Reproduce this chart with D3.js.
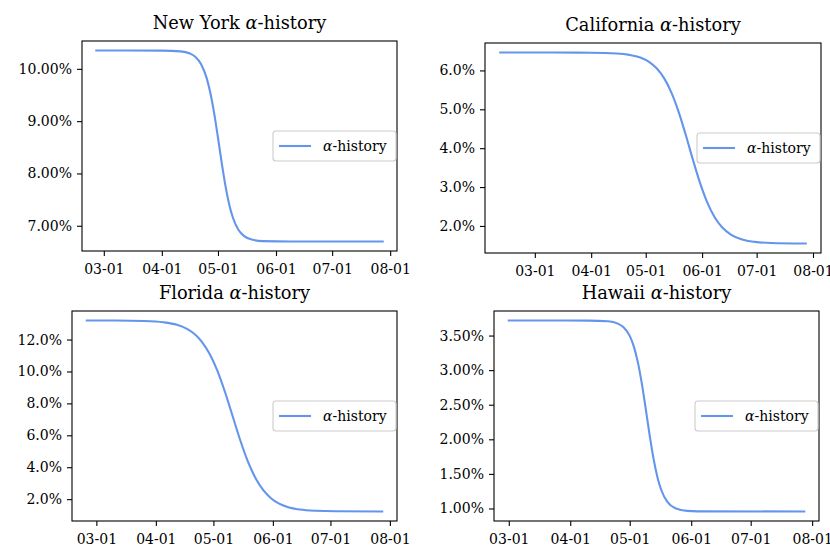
<!DOCTYPE html>
<html>
<head>
<meta charset="utf-8">
<script src="https://cdn.jsdelivr.net/npm/d3@7"></script>
<style>
  html, body { margin: 0; padding: 0; background: #fff; }
  svg { display: block; }
  text { font-family: "DejaVu Serif", serif; fill: #000; }
</style>
</head>
<body>
<svg id="chart" width="830" height="546"></svg>
<script>
// ---------------- DATA ----------------
const states = ["New York", "California", "Florida", "Hawaii"];
const seriesLabel = "history";
const xTickLabels = ["03-01", "04-01", "05-01", "06-01", "07-01", "08-01"];
const year = "2020";

const nyDates = ["2020-02-26","2020-03-15","2020-04-01","2020-04-11","2020-04-16","2020-04-19","2020-04-22","2020-04-25","2020-04-27","2020-04-29","2020-05-01","2020-05-03","2020-05-05","2020-05-07","2020-05-09","2020-05-12","2020-05-15","2020-05-19","2020-05-25","2020-06-09","2020-07-28"];
const nyValues = [10.35,10.35,10.349,10.335,10.294,10.228,10.09,9.818,9.529,9.143,8.683,8.201,7.762,7.408,7.153,6.919,6.802,6.736,6.707,6.70,6.70];
const nyYTicks = [7, 8, 9, 10];

const caDates = ["2020-02-11","2020-03-11","2020-04-01","2020-04-15","2020-04-22","2020-04-28","2020-05-03","2020-05-07","2020-05-11","2020-05-15","2020-05-19","2020-05-23","2020-05-27","2020-05-31","2020-06-04","2020-06-08","2020-06-12","2020-06-17","2020-06-23","2020-06-30","2020-07-09","2020-07-28"];
const caValues = [6.46,6.46,6.456,6.436,6.40,6.33,6.213,6.054,5.808,5.444,4.949,4.345,3.696,3.088,2.587,2.218,1.965,1.773,1.653,1.591,1.562,1.55];
const caYTicks = [2, 3, 4, 5, 6];

const flDates = ["2020-02-25","2020-03-11","2020-03-26","2020-04-05","2020-04-12","2020-04-17","2020-04-21","2020-04-25","2020-04-29","2020-05-03","2020-05-07","2020-05-11","2020-05-15","2020-05-19","2020-05-23","2020-05-27","2020-05-31","2020-06-04","2020-06-09","2020-06-15","2020-06-23","2020-07-04","2020-07-28"];
const flValues = [13.19,13.19,13.16,13.08,12.92,12.68,12.36,11.86,11.11,10.07,8.73,7.21,5.69,4.35,3.31,2.56,2.06,1.736,1.50,1.355,1.274,1.24,1.23];
const flYTicks = [2, 4, 6, 8, 10, 12];

const hiDates = ["2020-03-01","2020-03-21","2020-04-10","2020-04-20","2020-04-25","2020-04-28","2020-05-01","2020-05-03","2020-05-05","2020-05-07","2020-05-09","2020-05-11","2020-05-13","2020-05-15","2020-05-17","2020-05-20","2020-05-24","2020-05-30","2020-06-09","2020-07-28"];
const hiValues = [3.717,3.717,3.716,3.706,3.673,3.617,3.495,3.348,3.127,2.823,2.454,2.067,1.720,1.449,1.260,1.095,1.003,0.966,0.958,0.957];
const hiYTicks = [1.0, 1.5, 2.0, 2.5, 3.0, 3.5];

// ---------------- LAYOUT / STYLE ----------------
const panels = [
  { name: states[0], dates: nyDates, values: nyValues, yTicks: nyYTicks, dec: 2, box: { l: 82,  r: 397, t: 41,  b: 251 } },
  { name: states[1], dates: caDates, values: caValues, yTicks: caYTicks, dec: 1, box: { l: 485, r: 821, t: 43,  b: 253 } },
  { name: states[2], dates: flDates, values: flValues, yTicks: flYTicks, dec: 1, box: { l: 72,  r: 397, t: 311, b: 521 } },
  { name: states[3], dates: hiDates, values: hiValues, yTicks: hiYTicks, dec: 2, box: { l: 494, r: 819, t: 311, b: 521 } }
];
const lineColor = "#6495ED";
const parse = d3.timeParse("%Y-%m-%d");
const svg = d3.select("#chart");
svg.append("rect").attr("width", 830).attr("height", 546).attr("fill", "#fff");

panels.forEach(p => {
  const { l, r, t, b } = p.box;
  const data = p.dates.map((d, i) => ({ date: parse(d), value: p.values[i] }));

  const [d0, d1] = d3.extent(data, d => d.date);
  const xPad = (d1 - d0) * 0.05;
  const x = d3.scaleTime().domain([new Date(+d0 - xPad), new Date(+d1 + xPad)]).range([l, r]);

  const [v0, v1] = d3.extent(data, d => d.value);
  const yPad = (v1 - v0) * 0.05;
  const y = d3.scaleLinear().domain([v0 - yPad, v1 + yPad]).range([b, t]);

  const g = svg.append("g");

  // x axis
  const xTicks = xTickLabels.map(s => parse(year + "-" + s));
  const xAxis = g.append("g").attr("transform", `translate(0,${b})`)
    .call(d3.axisBottom(x).tickValues(xTicks).tickFormat(d3.timeFormat("%m-%d")).tickSize(5).tickPadding(8));
  // y axis
  const yAxis = g.append("g").attr("transform", `translate(${l},0)`)
    .call(d3.axisLeft(y).tickValues(p.yTicks).tickFormat(v => v.toFixed(p.dec) + "%").tickSize(5).tickPadding(5));
  [xAxis, yAxis].forEach(a => {
    a.select(".domain").remove();
    a.selectAll(".tick line").attr("stroke", "#000").attr("stroke-width", 1.1);
    a.selectAll(".tick text").attr("font-family", "DejaVu Serif").attr("font-size", 14).attr("fill", "#000");
  });

  // line
  const line = d3.line().x(d => x(d.date)).y(d => y(d.value)).curve(d3.curveMonotoneX);
  g.append("path").datum(data).attr("d", line)
    .attr("fill", "none").attr("stroke", lineColor).attr("stroke-width", 2.1)
    .attr("stroke-linejoin", "round").attr("stroke-linecap", "square");

  // frame
  g.append("rect").attr("x", l).attr("y", t).attr("width", r - l).attr("height", b - t)
    .attr("fill", "none").attr("stroke", "#000").attr("stroke-width", 1.1);

  // title
  const title = g.append("text").attr("x", (l + r) / 2).attr("y", t - 12.5)
    .attr("text-anchor", "middle").attr("font-size", 17.8);
  title.append("tspan").text(p.name + " ");
  title.append("tspan").attr("font-style", "italic").text("α");
  title.append("tspan").text("-" + seriesLabel);

  // legend
  const lw = 123, lh = 30;
  const lx = r - 1 - lw, ly = (t + b) / 2 - lh / 2;
  const lg = g.append("g");
  lg.append("rect").attr("x", lx).attr("y", ly).attr("width", lw).attr("height", lh)
    .attr("rx", 3).attr("fill", "#fff").attr("fill-opacity", 0.8)
    .attr("stroke", "#cccccc").attr("stroke-width", 1.1);
  lg.append("line").attr("x1", lx + 6).attr("x2", lx + 38).attr("y1", ly + lh / 2).attr("y2", ly + lh / 2)
    .attr("stroke", lineColor).attr("stroke-width", 2.1);
  const lt = lg.append("text").attr("x", lx + 50).attr("y", ly + lh / 2 + 5).attr("font-size", 14);
  lt.append("tspan").attr("font-style", "italic").text("α");
  lt.append("tspan").text("-" + seriesLabel);
});
</script>
</body>
</html>
